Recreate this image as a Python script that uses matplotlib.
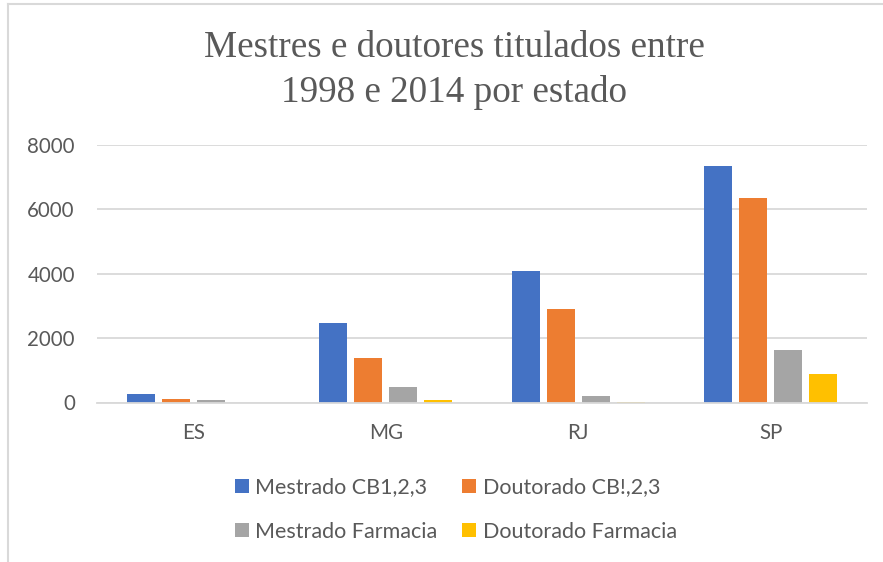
import matplotlib
matplotlib.use("Agg")
import matplotlib.pyplot as plt
import numpy as np
from matplotlib.patches import Patch
from matplotlib.lines import Line2D

categories = ["ES", "MG", "RJ", "SP"]
series_names = ["Mestrado CB1,2,3", "Doutorado CB!,2,3", "Mestrado Farmacia", "Doutorado Farmacia"]
mestrado_cb = [255, 2480, 4090, 7360]
doutorado_cb = [100, 1380, 2900, 6350]
mestrado_farm = [70, 480, 190, 1640]
doutorado_farm = [0, 80, 30, 900]
yticks = [0, 2000, 4000, 6000, 8000]
title = "Mestres e doutores titulados entre\n1998 e 2014 por estado"

colors = ["#4472C4", "#ED7D31", "#A5A5A5", "#FFC000"]
text_color = "#595959"
grid_color = "#D9D9D9"

W, H = 883, 562
fig = plt.figure(figsize=(W / 100, H / 100), dpi=100)
fig.patch.set_facecolor("white")

ax = fig.add_axes([97 / W, 1 - 402.5 / H, (867 - 97) / W, (402.5 - 145) / H])
x = np.arange(len(categories))
step = 0.182
width = 0.1455
data = [mestrado_cb, doutorado_cb, mestrado_farm, doutorado_farm]
for i, (vals, name, c) in enumerate(zip(data, series_names, colors)):
    ax.bar(x + (i - 1.5) * step, vals, width=width, color=c, label=name, zorder=3)

ax.set_xlim(-0.5, len(categories) - 0.5)
ax.set_ylim(0, 8000)
ax.set_yticks(yticks)
ax.set_yticklabels([str(v) for v in yticks])
ax.set_xticks(x)
ax.set_xticklabels(categories)
ax.yaxis.grid(True, color=grid_color, linewidth=1.3, zorder=0)
ax.set_axisbelow(True)
for s in ["left", "right", "top"]:
    ax.spines[s].set_visible(False)
ax.spines["bottom"].set_color(grid_color)
ax.spines["bottom"].set_linewidth(1.3)
ax.spines["bottom"].set_zorder(4)
ax.tick_params(axis="both", length=0, labelsize=14.8, labelcolor=text_color)
ax.tick_params(axis="y", pad=16)
ax.tick_params(axis="x", pad=15)
for lab in ax.get_xticklabels() + ax.get_yticklabels():
    lab.set_family(["Lato", "DejaVu Sans"])

fig.text(454 / W, 1 - 70 / H, title, ha="center", va="center",
         fontsize=26.7, family=["Liberation Serif", "DejaVu Serif"], color=text_color,
         linespacing=1.36)

handles = [Patch(facecolor=c, edgecolor="none") for c in colors]
order = [0, 2, 1, 3]  # row-wise order for a 2-column legend
leg = fig.legend([handles[i] for i in order], [series_names[i] for i in order],
                 ncol=2, loc="center",
                 bbox_to_anchor=(456 / W, 1 - 509.5 / H), frameon=False,
                 prop={"family": "Lato", "size": 15.5}, labelcolor=text_color,
                 handlelength=0.65, handleheight=0.65, handletextpad=0.3,
                 columnspacing=1.15, labelspacing=1.12)

# chart area border (partially visible)
fig.add_artist(Line2D([8 / W, 8 / W], [0, 1 - 4 / H], color=grid_color, linewidth=1.5,
                      transform=fig.transFigure))
fig.add_artist(Line2D([8 / W, 1], [1 - 4 / H, 1 - 4 / H], color=grid_color, linewidth=1.5,
                      transform=fig.transFigure))

fig.savefig("out.png", dpi=100)
